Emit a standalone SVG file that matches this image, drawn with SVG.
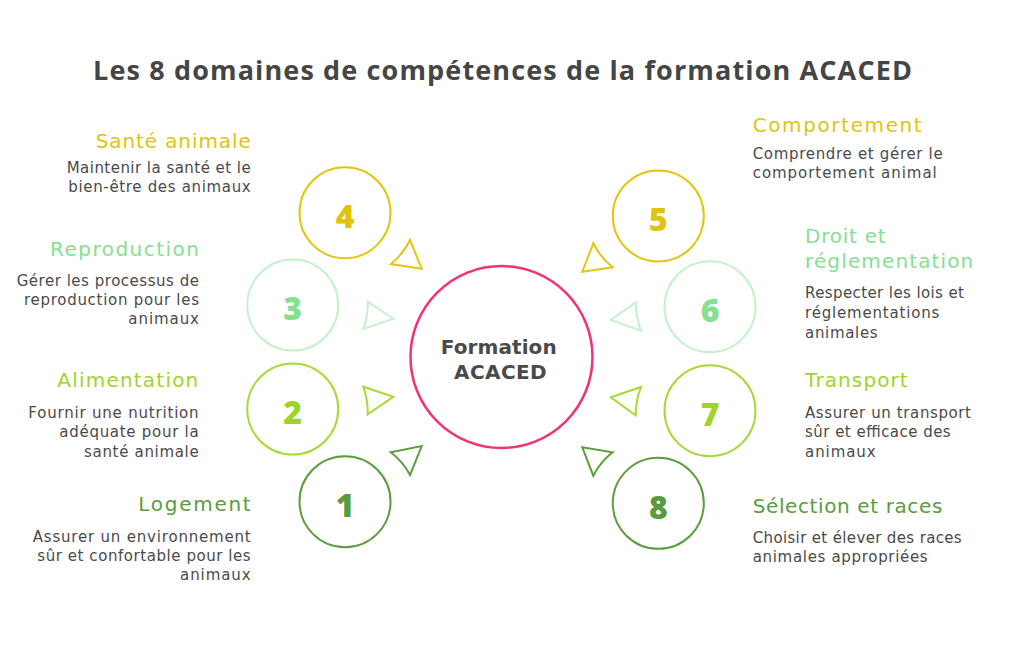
<svg xmlns="http://www.w3.org/2000/svg" width="1024" height="645" viewBox="0 0 1024 645">
<style>
text{font-family:"Open Sans","Liberation Sans",sans-serif;}
.title{font-size:27px;font-weight:700;fill:#454545;}
.h{font-family:"DejaVu Sans","Liberation Sans",sans-serif;font-size:20px;font-weight:400;}
.d{font-family:"DejaVu Sans","Liberation Sans",sans-serif;font-size:15px;fill:#4a4a4a;}
.num{font-size:32px;font-weight:800;text-anchor:middle;}
.c{fill:none;stroke-width:2;}
.tri{fill:none;stroke-width:2;stroke-linejoin:miter;}
.y{stroke:#e3c60f;} .yt{fill:#e0c40a;}
.m{stroke:#c3f2cb;} .mt{fill:#85e092;}
.l{stroke:#a6da36;} .lt{fill:#9fd42a;}
.g{stroke:#5c9e3f;} .gt{fill:#5a9c3c;}
.center{fill:#fff;stroke:#f2336f;stroke-width:2.5;}
.ct{font-family:"DejaVu Sans","Liberation Sans",sans-serif;font-size:20px;font-weight:700;fill:#4a4a4a;}
</style>
<rect width="1024" height="645" fill="#ffffff"/>
<text class="title" x="93" y="80" textLength="819">Les 8 domaines de compétences de la formation ACACED</text>

<g id="connectors">
<path class="tri y" d="M410,240 A70,70 0 0 1 391,264 L421.7,268.7 Z"/>
<path class="tri m" d="M367.7,301.7 A75,75 0 0 1 363.3,329 L393.3,318.7 Z"/>
<path class="tri l" d="M363.3,386.7 A75,75 0 0 1 367.7,414.3 L393.3,396.7 Z"/>
<path class="tri g" d="M390.7,452.3 A68,68 0 0 1 410,475 L421.7,446 Z"/>
<path class="tri y" d="M612.7,267.3 A70,70 0 0 1 593.3,243.3 L582.3,271.7 Z"/>
<path class="tri m" d="M641,330.7 A74,74 0 0 1 636,302.3 L610.7,320 Z"/>
<path class="tri l" d="M635.7,415.3 A74,74 0 0 1 641,387 L610.7,397.3 Z"/>
<path class="tri g" d="M593.3,475.7 A70,70 0 0 1 612.7,452.3 L582.3,447.3 Z"/>
</g>

<g id="center">
<circle class="center" cx="501.5" cy="357" r="91"/>
<text class="ct"><tspan x="440.7" y="354" textLength="116">Formation</tspan><tspan x="454" y="379" textLength="92.7">ACACED</tspan></text>
</g>

<g id="node4">
<circle class="c y" cx="345" cy="212.7" r="45.5"/>
<text class="num yt" x="345" y="228">4</text>
<text class="h yt" x="95.7" y="148.3" textLength="155">Santé animale</text>
<text class="d" x="66.7" y="173.3" textLength="184">Maintenir la santé et le</text>
<text class="d" x="68.3" y="191.7" textLength="182.4">bien-être des animaux</text>
</g>

<g id="node3">
<circle class="c m" cx="292.7" cy="305" r="45.5"/>
<text class="num mt" x="292.7" y="320">3</text>
<text class="h mt" x="50" y="256" textLength="149">Reproduction</text>
<text class="d" x="16.7" y="286" textLength="182.3">Gérer les processus de</text>
<text class="d" x="24" y="305" textLength="175">reproduction pour les</text>
<text class="d" x="128.3" y="324" textLength="70.7">animaux</text>
</g>

<g id="node2">
<circle class="c l" cx="292.7" cy="409" r="45.5"/>
<text class="num lt" x="292.7" y="424">2</text>
<text class="h lt" x="57.3" y="386.7" textLength="141">Alimentation</text>
<text class="d" x="28.3" y="418" textLength="170.3">Fournir une nutrition</text>
<text class="d" x="59.3" y="437" textLength="139.3">adéquate pour la</text>
<text class="d" x="84" y="456.5" textLength="114.7">santé animale</text>
</g>

<g id="node1">
<circle class="c g" cx="345" cy="501.7" r="45.5"/>
<text class="num gt" x="345" y="517">1</text>
<text class="h gt" x="138.3" y="510.5" textLength="112.4">Logement</text>
<text class="d" x="32.7" y="541.5" textLength="218">Assurer un environnement</text>
<text class="d" x="37.3" y="561" textLength="213.4">sûr et confortable pour les</text>
<text class="d" x="180" y="580" textLength="70.7">animaux</text>
</g>

<g id="node5">
<circle class="c y" cx="658.3" cy="216" r="45.5"/>
<text class="num yt" x="658.3" y="231">5</text>
<text class="h yt" x="752.7" y="131.7" textLength="169">Comportement</text>
<text class="d" x="752.7" y="159.3" textLength="190">Comprendre et gérer le</text>
<text class="d" x="752.7" y="178.3" textLength="184">comportement animal</text>
</g>

<g id="node6">
<circle class="c m" cx="710" cy="306.7" r="45.5"/>
<text class="num mt" x="710" y="322">6</text>
<text class="h mt" x="805" y="243.3" textLength="80.7">Droit et</text>
<text class="h mt" x="805" y="268.3" textLength="168.3">réglementation</text>
<text class="d" x="805" y="298.3" textLength="159">Respecter les lois et</text>
<text class="d" x="805" y="318.3" textLength="134.3">réglementations</text>
<text class="d" x="805" y="337.8" textLength="72.7">animales</text>
</g>

<g id="node7">
<circle class="c l" cx="710" cy="410.7" r="45.5"/>
<text class="num lt" x="710" y="426">7</text>
<text class="h lt" x="805" y="386.7" textLength="102.7">Transport</text>
<text class="d" x="805" y="418.3" textLength="166">Assurer un transport</text>
<text class="d" x="805" y="437.3" textLength="145.7">sûr et efficace des</text>
<text class="d" x="805" y="456.7" textLength="70.7">animaux</text>
</g>

<g id="node8">
<circle class="c g" cx="658.3" cy="503.3" r="45.5"/>
<text class="num gt" x="658.3" y="518.5">8</text>
<text class="h gt" x="752.7" y="513.3" textLength="189.6">Sélection et races</text>
<text class="d" x="752.7" y="543.3" textLength="209">Choisir et élever des races</text>
<text class="d" x="752.7" y="562.3" textLength="175">animales appropriées</text>
</g>
</svg>
